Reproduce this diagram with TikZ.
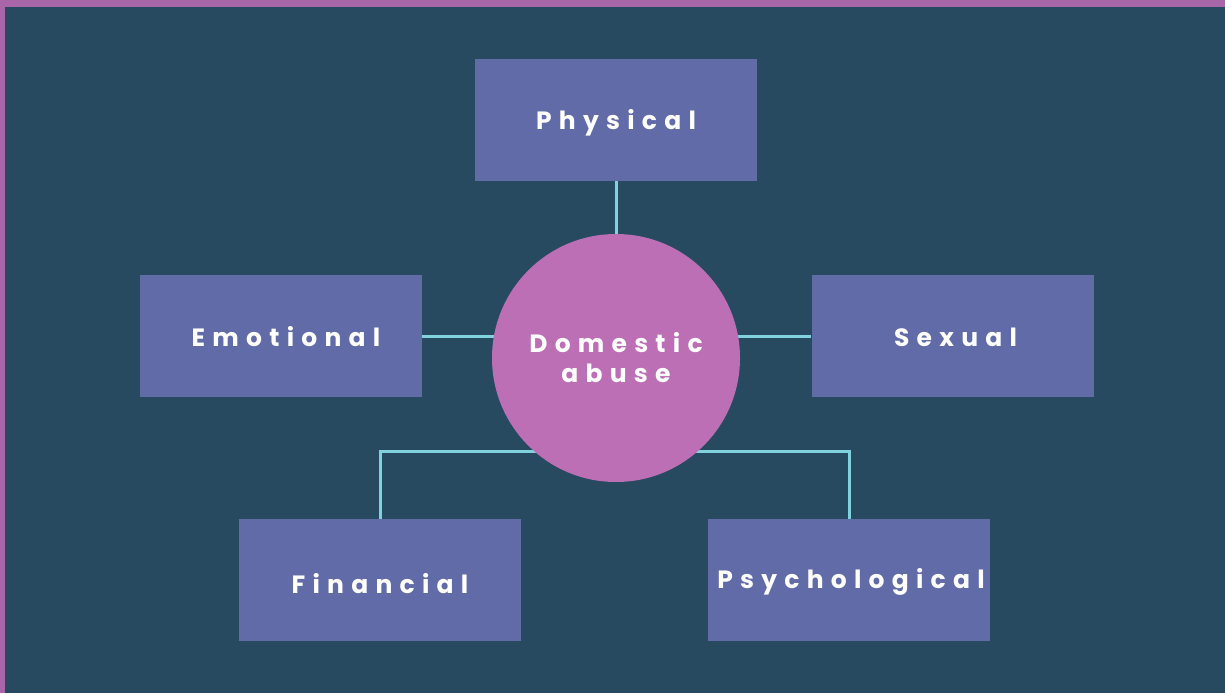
\documentclass[tikz,border=0pt]{standalone}
\usepackage{fontspec}
\setmainfont{Poppins}
\definecolor{bg}{HTML}{274A60}
\definecolor{frame}{HTML}{A865A8}
\definecolor{boxc}{HTML}{606BA8}
\definecolor{circ}{HTML}{BC6FB5}
\definecolor{link}{HTML}{80D2DF}
\newcommand{\boxtext}[2]{\smash{\raisebox{-#1pt}{#2}}}
\begin{document}
\begin{tikzpicture}[x=1pt,y=-1pt,
  lbl/.style={font=\fontsize{25}{30}\selectfont\bfseries\addfontfeatures{LetterSpace=29}},
  catbox/.style={fill=boxc, draw=none, minimum width=282pt, minimum height=122pt, inner sep=0pt, text=white, lbl},
  hub/.style={circle, fill=circ, draw=none, minimum size=248pt, inner sep=0pt, text=white, align=center, lbl},
  conn/.style={draw=link, line width=3pt}]
\fill[frame] (0,0) rectangle (1225,693);
\fill[bg] (5,7) rectangle (1225,693);
\useasboundingbox (0,0) rectangle (1225,693);
\node[catbox] (phys) at (616,120) {\boxtext{9}{Physical}};
\node[catbox] (emo) at (281,336) {\hspace{10pt}\boxtext{10}{Emotional}};
\node[catbox] (sex) at (952.5,336) {\hspace{6pt}\boxtext{10}{Sexual}};
\node[catbox] (fin) at (380,580) {\boxtext{13}{Financial}};
\node[catbox] (psy) at (849,580) {\hspace{4pt}\boxtext{8}{Psychological}};
\coordinate (fl) at (380,451);
\coordinate (pr) at (849,451);
\draw[conn] (phys.south) -- (616,240);
\draw[conn] (emo.east) -- (500,336);
\draw[conn] (sex.west) -- (735,336);
\draw[conn] (fin.north) -- (fl) -- (560,451);
\draw[conn] (psy.north) -- (pr) -- (670,451);
\node[hub] (hub) at (616,358) {Domestic\\abuse};
\end{tikzpicture}
\end{document}
